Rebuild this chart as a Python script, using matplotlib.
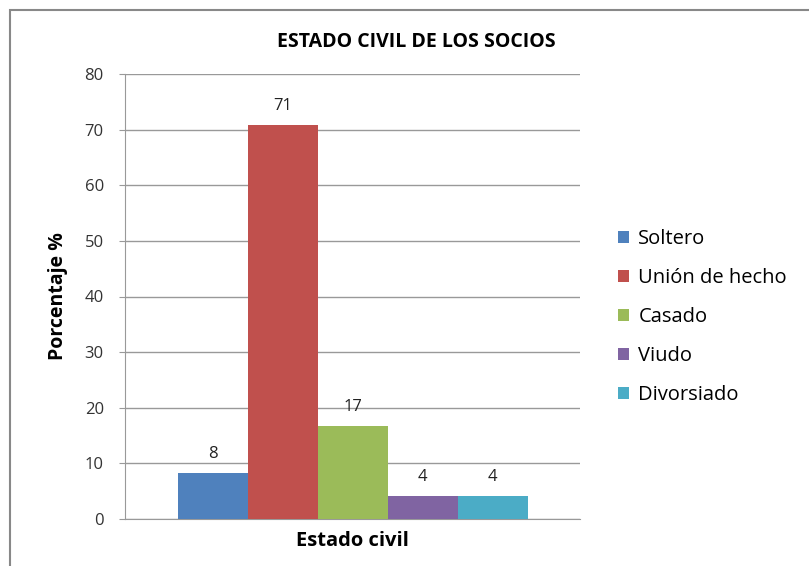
import matplotlib
matplotlib.use("Agg")
import matplotlib.pyplot as plt
from matplotlib.patches import Rectangle, Patch

categories = ["Soltero", "Unión de hecho", "Casado", "Viudo", "Divorsiado"]
values = [8.33, 70.83, 16.67, 4.17, 4.17]
labels = ["8", "71", "17", "4", "4"]
colors = ["#4F81BD", "#C0504D", "#9BBB59", "#8064A2", "#4BACC6"]
yticks = [0, 10, 20, 30, 40, 50, 60, 70, 80]

plt.rcParams['font.family'] = ['Open Sans', 'DejaVu Sans']

W, H = 809, 566
fig = plt.figure(figsize=(W/100, H/100), dpi=100)

# outer chart border
fig.patches.append(Rectangle((10/W, -0.1), 1.2, (H-10)/H + 0.1, transform=fig.transFigure,
                             fill=False, edgecolor="#888888", linewidth=1.5))

ax = fig.add_axes([125/W, 1-519/H, (580-125)/W, (519-74)/H])
bw = 1.0
n = len(values)
xs = [i - (n-1)/2 for i in range(n)]
for x, v, c, lab in zip(xs, values, colors, labels):
    ax.bar(x, v, width=bw, color=c, zorder=3)
    ax.text(x, v + 2.0, lab, ha="center", va="bottom", fontsize=12, color="#222222")

ax.set_xlim(-3.25, 3.25)
ax.set_ylim(0, 80)
ax.set_yticks(yticks)
ax.set_yticklabels([str(t) for t in yticks], fontsize=12, color="#333333")
ax.set_xticks([])
ax.grid(axis="y", color="#999999", linewidth=1, zorder=0)
for s in ["top", "right"]:
    ax.spines[s].set_visible(False)
ax.spines["left"].set_color("#999999")
ax.spines["bottom"].set_color("#999999")
ax.tick_params(axis="y", length=4.3, color="#999999", pad=11)

ax.set_ylabel("Porcentaje %", fontsize=14, fontweight="bold", labelpad=12)
ax.set_xlabel("Estado civil", fontsize=14.5, fontweight="bold", labelpad=9)

fig.text(416/W, 1-42/H, "ESTADO CIVIL DE LOS SOCIOS", ha="center", va="center",
         fontsize=14, fontweight="bold")

handles = [Patch(facecolor=c, edgecolor="none") for c in colors]
fig.legend(handles, categories, loc="center left", bbox_to_anchor=(600/W, 1-317/H),
           frameon=False, fontsize=14.5, handlelength=0.55, handleheight=0.55,
           labelspacing=0.95, handletextpad=0.45)

fig.savefig("out.png", dpi=100)
